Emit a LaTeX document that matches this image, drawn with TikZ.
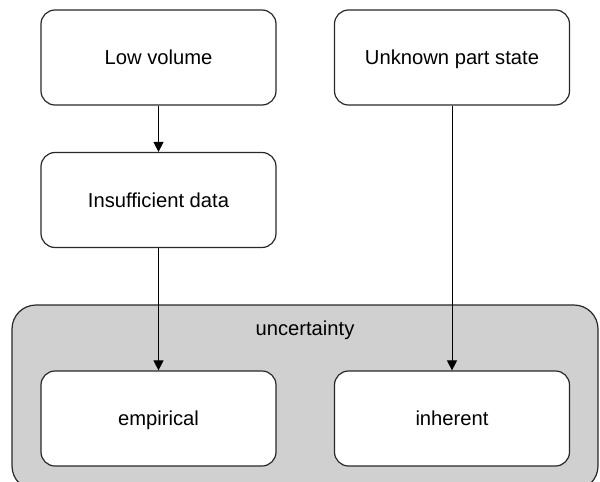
\documentclass[tikz,border=0pt]{standalone}
\usepackage{fontspec}
\setmainfont{Liberation Sans}
\usetikzlibrary{arrows.meta}
\definecolor{groupfill}{RGB}{208,208,208}
\definecolor{edge}{RGB}{40,40,40}
\begin{document}
\begin{tikzpicture}[x=1pt,y=-1pt,
  label text/.style={font=\fontsize{20.2}{24}\selectfont, text height=14.5pt, text depth=0pt},
  box/.style={label text, draw=edge, line width=1.2pt, fill=white, rounded corners=14pt,
    minimum width=235pt, minimum height=95pt, inner sep=0pt},
  group/.style={draw=edge, line width=1.2pt, fill=groupfill, rounded corners=24pt},
  link/.style={line width=1pt, -{Triangle[length=10pt,width=10pt]}}]
\useasboundingbox (0,0) rectangle (600,482);
% container for the two kinds of uncertainty
\path[group] (12,305) rectangle (598,490);
\node[label text] (unc) at (305,328) {uncertainty};
% causes
\node[box] (low) at (158.5,57.5) {Low volume};
\node[box] (unk) at (452,57.5) {Unknown part state};
\node[box] (ins) at (158.5,200) {Insufficient data};
% kinds
\node[box] (emp) at (158.5,418.5) {empirical};
\node[box] (inh) at (452,418.5) {inherent};
% links
\draw[link] (low) -- (ins);
\draw[link] (ins) -- (emp);
\draw[link] (unk) -- (inh);
\end{tikzpicture}
\end{document}
